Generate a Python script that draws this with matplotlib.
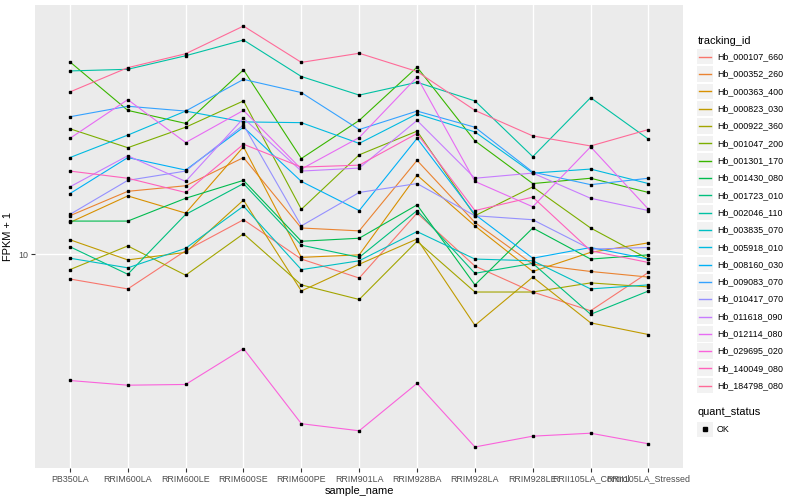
import numpy as np
import matplotlib.pyplot as plt
from matplotlib.patches import Rectangle
from matplotlib.lines import Line2D
from matplotlib.ticker import NullLocator, FixedLocator

plt.rcParams['font.family'] = ['Liberation Sans', 'DejaVu Sans']

# -----------------------------
# data (FPKM + 1)
# -----------------------------

samples = ["PB350LA", "RRIM600LA", "RRIM600LE", "RRIM600SE", "RRIM600PE",
           "RRIM901LA", "RRIM928BA", "RRIM928LA", "RRIM928LE",
           "RRII105LA_Control", "RRII105LA_Stressed"]

tracking_ids = ["Hb_000107_660", "Hb_000352_260", "Hb_000363_400", "Hb_000823_030",
                "Hb_000922_360", "Hb_001047_200", "Hb_001301_170", "Hb_001430_080",
                "Hb_001723_010", "Hb_002046_110", "Hb_003835_070", "Hb_005918_010",
                "Hb_008160_030", "Hb_009083_070", "Hb_010417_070", "Hb_011618_090",
                "Hb_012114_080", "Hb_029695_020", "Hb_140049_080", "Hb_184798_080"]

hb_000107_660 = [8.6, 8.1, 10.2, 12.3, 9.7, 8.65, 12.8, 9.3, 7.95, 7.1, 8.95]
hb_000352_260 = [12.6, 14.6, 15.1, 17.9, 11.7, 11.5, 17.6, 12.1, 9.4, 9.0, 8.7]
hb_000363_400 = [12.1, 14.2, 12.8, 19.1, 9.8, 9.95, 16.1, 11.85, 9.0, 10.1, 10.7]
hb_000823_030 = [10.9, 9.65, 10.1, 13.85, 8.0, 9.4, 10.95, 6.5, 8.7, 6.6, 6.15]
hb_000922_360 = [9.1, 10.5, 8.8, 11.3, 8.3, 7.6, 10.8, 7.95, 7.95, 8.4, 8.2]
hb_001047_200 = [21.3, 19.0, 21.5, 25.2, 13.1, 18.2, 21.0, 12.6, 15.0, 11.7, 9.7]
hb_001301_170 = [31.9, 23.8, 22.0, 30.4, 17.8, 22.4, 30.9, 19.8, 15.3, 15.8, 14.5]
hb_001430_080 = [12.2, 12.2, 14.0, 15.6, 10.8, 11.0, 13.45, 8.3, 11.7, 9.7, 9.95]
hb_001723_010 = [10.45, 8.85, 12.7, 15.3, 10.55, 9.8, 13.0, 8.9, 9.45, 6.95, 8.0]
hb_002046_110 = [30.2, 30.5, 33.1, 36.4, 29.2, 26.1, 28.2, 25.2, 18.0, 25.7, 20.0]
hb_003835_070 = [9.75, 9.2, 10.35, 13.35, 9.1, 9.6, 11.45, 9.7, 9.6, 8.1, 8.3]
hb_005918_010 = [17.9, 20.5, 23.7, 22.2, 22.1, 19.5, 23.3, 20.9, 16.3, 16.7, 15.3]
hb_008160_030 = [14.4, 17.9, 16.6, 21.5, 15.5, 13.0, 20.1, 12.7, 9.75, 10.4, 9.7]
hb_009083_070 = [22.9, 24.4, 23.7, 28.7, 26.5, 21.2, 23.7, 21.5, 16.4, 15.2, 15.8]
hb_010417_070 = [12.7, 15.6, 16.5, 21.8, 11.85, 14.5, 15.3, 12.6, 12.3, 10.3, 10.4]
hb_011618_090 = [15.0, 18.1, 15.5, 22.7, 16.5, 16.8, 22.4, 15.8, 16.3, 14.0, 13.0]
hb_012114_080 = [20.1, 25.4, 19.6, 23.8, 16.7, 20.2, 29.1, 15.5, 13.3, 19.1, 13.1]
hb_029695_020 = [4.66, 4.53, 4.55, 5.65, 3.59, 3.44, 4.58, 3.12, 3.33, 3.39, 3.18]
hb_140049_080 = [16.5, 15.8, 14.5, 19.4, 16.9, 17.1, 20.7, 13.0, 14.1, 10.2, 9.5]
hb_184798_080 = [26.6, 30.8, 33.5, 39.6, 31.8, 33.6, 30.1, 23.8, 20.4, 19.2, 21.2]

series = [hb_000107_660, hb_000352_260, hb_000363_400, hb_000823_030, hb_000922_360,
          hb_001047_200, hb_001301_170, hb_001430_080, hb_001723_010, hb_002046_110,
          hb_003835_070, hb_005918_010, hb_008160_030, hb_009083_070, hb_010417_070,
          hb_011618_090, hb_012114_080, hb_029695_020, hb_140049_080, hb_184798_080]


# -----------------------------
# ggplot-like hue palette (polar LUV)
# -----------------------------

def hcl_hex(h, c=100.0, l=65.0):
    h = np.deg2rad(h)
    u, v = c * np.cos(h), c * np.sin(h)
    xn, yn, zn = 95.047, 100.0, 108.883
    un = 4 * xn / (xn + 15 * yn + 3 * zn)
    vn = 9 * yn / (xn + 15 * yn + 3 * zn)
    y = yn * ((l + 16) / 116) ** 3
    up = u / (13 * l) + un
    vp = v / (13 * l) + vn
    x = y * 9 * up / (4 * vp)
    z = y * (12 - 3 * up - 20 * vp) / (4 * vp)
    m = np.array([[3.2406, -1.5372, -0.4986],
                  [-0.9689, 1.8758, 0.0415],
                  [0.0557, -0.2040, 1.0570]])
    rgb = m @ (np.array([x, y, z]) / 100.0)
    rgb = np.where(rgb <= 0.0031308, 12.92 * rgb, 1.055 * rgb ** (1 / 2.4) - 0.055)
    return tuple(np.clip(rgb, 0, 1))


n = len(tracking_ids)
colors = [hcl_hex(15 + i * 360 / n) for i in range(n)]

# -----------------------------
# plot
# -----------------------------

fig = plt.figure(figsize=(8, 5), dpi=100)
ax = fig.add_axes([0.044, 0.064, 0.81, 0.926])
ax.set_facecolor("#EBEBEB")

xpos = np.arange(len(samples))
for vals, col in zip(series, colors):
    ax.plot(xpos, vals, color=col, lw=0.8, zorder=2)
    ax.plot(xpos, vals, "s", color="black", ms=2.0, zorder=3)

ax.set_yscale("log")
ax.margins(y=0.05)
ax.set_xlim(-0.6, len(samples) - 0.4)
ax.yaxis.set_major_locator(FixedLocator([10]))
ax.yaxis.set_minor_locator(NullLocator())
ax.set_yticklabels(["10"])
ax.set_xticks(xpos)
ax.set_xticklabels(samples)

ax.grid(True, color="white", lw=1.0, zorder=0)
ax.set_axisbelow(True)
for s in ax.spines.values():
    s.set_visible(False)
ax.tick_params(axis="both", colors="#4D4D4D", labelsize=6.4, length=2.7,
               width=0.8, pad=2)
ax.tick_params(axis="both", color="#333333")

ax.set_xlabel("sample_name", fontsize=7.9, labelpad=2)
ax.set_ylabel("FPKM + 1", fontsize=7.9, labelpad=4)

# -----------------------------
# legends drawn like ggplot guides
# -----------------------------

W, H = 800.0, 500.0
key_x, key_w, key_h = 697.3, 15.4, 15.4
text_x = 717.0
step = 17.32

fig.text(key_x / W, 1 - 40.5 / H, "tracking_id", fontsize=7.9, va="center", ha="left")
for i, (tid, col) in enumerate(zip(tracking_ids, colors)):
    yc = 56.7 + i * step
    fig.patches.append(Rectangle((key_x / W, 1 - (yc + key_h / 2) / H),
                                 key_w / W, key_h / H, transform=fig.transFigure,
                                 facecolor="#F2F2F2", edgecolor="none", zorder=1))
    fig.lines.append(Line2D([(key_x + 1.5) / W, (key_x + key_w - 1.5) / W],
                            [1 - yc / H, 1 - yc / H], transform=fig.transFigure,
                            color=col, lw=1.0, zorder=5))
    fig.text(text_x / W, 1 - yc / H, tid, fontsize=6.4, va="center", ha="left")

fig.text(key_x / W, 1 - 412.3 / H, "quant_status", fontsize=7.9, va="center", ha="left")
yc = 429.3
fig.patches.append(Rectangle((key_x / W, 1 - (yc + key_h / 2) / H),
                             key_w / W, key_h / H, transform=fig.transFigure,
                             facecolor="#F2F2F2", edgecolor="none", zorder=1))
fig.lines.append(Line2D([(key_x + key_w / 2) / W], [1 - yc / H], transform=fig.transFigure,
                        marker="s", color="black", ms=2.2, lw=0, zorder=5))
fig.text(text_x / W, 1 - yc / H, "OK", fontsize=6.4, va="center", ha="left")

fig.savefig("out.png", dpi=100)
